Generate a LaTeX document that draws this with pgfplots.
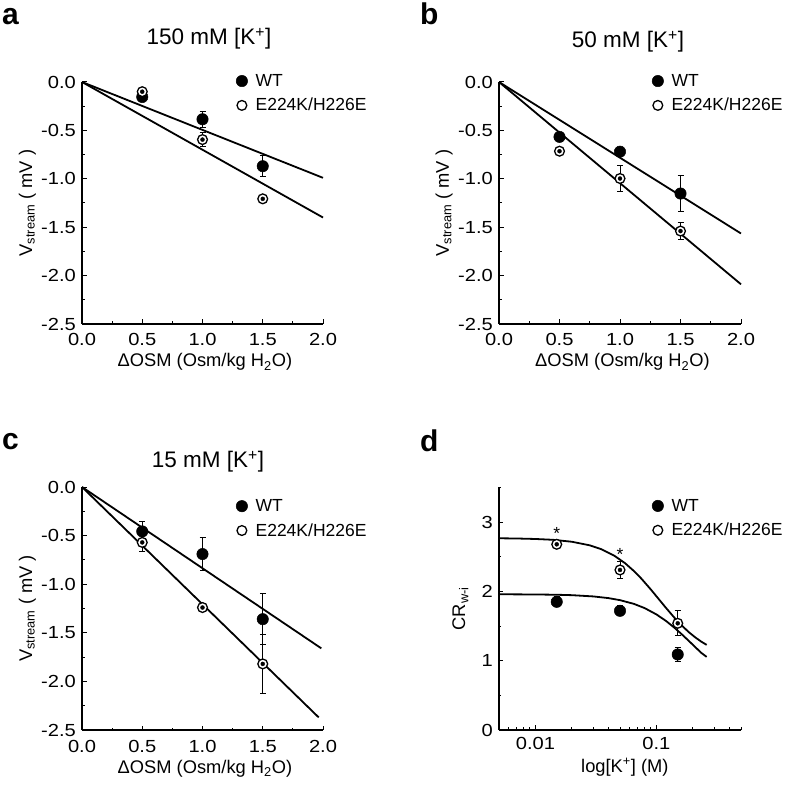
\documentclass[border=0pt]{standalone}
\usepackage{pgfplots}
\pgfplotsset{compat=1.18}
\usepackage{fontspec}
\setmainfont{Liberation Sans}
\newfontfamily\myTickFam[FakeStretch=1.15]{Liberation Sans}
\newcommand{\myTickFont}{\myTickFam\fontsize{17.5bp}{20bp}\selectfont}
\newcommand{\myLabFont}{\fontsize{18.3bp}{21bp}\selectfont}
\newcommand{\myLegFont}{\fontsize{17.5bp}{20bp}\selectfont}
\newcommand{\myTitleFont}{\fontsize{22.5bp}{25bp}\selectfont}
\newcommand{\myLetterFont}{\fontsize{30bp}{32bp}\selectfont\bfseries}

\pgfplotsset{
 panel/.style={
  scale only axis, clip=false,
  axis x line*=bottom, axis y line*=left,
  axis line style={line width=1.2bp,-},
  tick align=inside,
  major tick length=4.5bp, minor tick length=2.5bp,
  every tick/.style={line width=1bp, black},
  tick label style={font=\myTickFont},
  xticklabel style={anchor=base, yshift=-22bp},
  yticklabel style={inner sep=0pt, xshift=-6bp},
  legend style={draw=none, fill=none, font=\myLegFont, legend cell align=left, anchor=north west,
     row sep=6.5bp, column sep=6bp, inner sep=0pt, nodes={inner sep=2bp}},
 },
 osm/.style={
  xmin=0, xmax=2, ymin=-2.5, ymax=0,
  xtick={0,0.5,1,1.5,2}, xticklabels={0.0,0.5,1.0,1.5,2.0},
  ytick={-2.5,-2,-1.5,-1,-0.5,0}, yticklabels={-2.5,-2.0,-1.5,-1.0,-0.5,0.0},
  minor tick num=1,
  xlabel={ΔOSM (Osm/kg H\textsubscript{2}O)},
  ylabel={V\textsubscript{stream} ( mV )},
  xlabel style={at={(axis description cs:0.51,0)}, anchor=base, yshift=-43bp, font=\myLabFont},
  ylabel style={at={(axis description cs:-0.207,0.5)}, anchor=base, font=\myLabFont},
 },
 wt/.style={black, only marks, mark=*, mark size=5.7bp, mark options={fill=black, line width=0.5bp},
  legend image code/.code={\draw[mark repeat=2,mark phase=2,##1] plot coordinates {(0bp,0bp)(6bp,0bp)(12bp,0bp)};},
  error bars/y dir=both, error bars/y explicit,
  error bars/error bar style={line width=1bp, black},
  error bars/error mark options={rotate=90, line width=1bp, mark size=3bp, black}},
 mu/.style={black, only marks, mark=*, mark size=4.9bp, mark options={fill=white, draw=black, line width=1.3bp},
  legend image code/.code={\draw[mark repeat=2,mark phase=2,##1] plot coordinates {(0bp,0bp)(6bp,0bp)(12bp,0bp)};}},
 eb/.style={black, forget plot, only marks, mark=none,
  error bars/y dir=both, error bars/y explicit,
  error bars/error bar style={line width=1bp, black},
  error bars/error mark options={rotate=90, line width=1bp, mark size=3bp, black}},
 fit/.style={black, line width=1.8bp, mark=none, forget plot},
}

\begin{document}
\begin{tikzpicture}
\path[use as bounding box] (0bp,0bp) rectangle (787bp,785bp);

% ---------- panel a ----------
\begin{axis}[panel, osm, at={(82bp,461bp)}, anchor=south west, width=241bp, height=242bp,
  legend style={at={(0.639,1.041)}}]
\addplot[fit] coordinates {(0,0) (2,-0.99)};
\addplot[fit] coordinates {(0,0) (2,-1.40)};
\addplot[wt] coordinates {(0.5,-0.155) +- (0,0.05) (1,-0.385) +- (0,0.08) (1.5,-0.87) +- (0,0.11)};
\addlegendentry{WT}
\addplot[mu] coordinates {(0.5,-0.10) (1,-0.595) (1.5,-1.207)};
\addlegendentry{E224K/H226E}
\addplot[eb] coordinates {(0.5,-0.10) +- (0,0.03) (1,-0.595) +- (0,0.07) (1.5,-1.207) +- (0,0.03)};
\end{axis}

% ---------- panel b ----------
\begin{axis}[panel, osm, at={(499bp,461bp)}, anchor=south west, width=242bp, height=242bp,
  legend style={at={(0.632,1.041)}}]
\addplot[fit] coordinates {(0,0) (2,-1.565)};
\addplot[fit] coordinates {(0,0) (2,-2.09)};
\addplot[wt] coordinates {(0.5,-0.567) +- (0,0.05) (1,-0.72) +- (0,0.03) (1.5,-1.152) +- (0,0.19)};
\addlegendentry{WT}
\addplot[mu] coordinates {(0.5,-0.715) (1,-0.997) (1.5,-1.54)};
\addlegendentry{E224K/H226E}
\addplot[eb] coordinates {(0.5,-0.715) +- (0,0.03) (1,-0.997) +- (0,0.13) (1.5,-1.54) +- (0,0.09)};
\end{axis}

% ---------- panel c ----------
\begin{axis}[panel, osm, at={(82bp,55bp)}, anchor=south west, width=241bp, height=243bp,
  legend style={at={(0.639,0.958)}}]
\addplot[fit] coordinates {(0,0) (1.986,-1.66)};
\addplot[fit] coordinates {(0,0) (1.964,-2.37)};
\addplot[wt] coordinates {(0.5,-0.457) +- (0,0.10) (1,-0.69) +- (0,0.17) (1.5,-1.36) +- (0,0.26)};
\addlegendentry{WT}
\addplot[mu] coordinates {(0.5,-0.57) (1,-1.24) (1.5,-1.82)};
\addlegendentry{E224K/H226E}
\addplot[eb] coordinates {(0.5,-0.57) +- (0,0.09) (1,-1.24) +- (0,0.04) (1.5,-1.82) +- (0,0.30)};
\end{axis}

% ---------- panel d ----------
\begin{axis}[panel, at={(499bp,55bp)}, anchor=south west, width=242bp, height=242.5bp,
  xmode=log, xmin=0.005, xmax=0.5, ymin=0, ymax=3.5,
  xtick={0.01,0.1}, xticklabels={0.01,0.1},
  xticklabel style={yshift=3bp},
  minor xtick={0.005,0.006,0.007,0.008,0.009,0.02,0.03,0.04,0.05,0.06,0.07,0.08,0.09,0.2,0.3,0.4,0.5},
  ytick={0,1,2,3}, yticklabels={0,1,2,3}, minor ytick={0.5,1.5,2.5,3.5},
  xlabel={log[K\textsuperscript{+}] (M)},
  ylabel={CR\textsubscript{w-i}},
  xlabel style={at={(axis description cs:0.52,0)}, anchor=base, yshift=-42bp, font=\myLabFont},
  ylabel style={at={(axis description cs:-0.14,0.5)}, anchor=base, font=\myLabFont},
  legend style={at={(0.632,0.961)}}]
\addplot[fit] coordinates {
 (0.005,2.767) (0.007,2.764) (0.01,2.757) (0.014,2.745) (0.02,2.717) (0.028,2.666)
 (0.035,2.610) (0.045,2.514) (0.055,2.408) (0.065,2.296) (0.075,2.186) (0.09,2.027)
 (0.105,1.885) (0.12,1.762) (0.14,1.626) (0.16,1.517) (0.185,1.413) (0.21,1.335)
 (0.235,1.275) (0.26,1.229)};
\addplot[fit] coordinates {
 (0.005,1.959) (0.01,1.956) (0.015,1.952) (0.02,1.946) (0.03,1.928) (0.04,1.904)
 (0.05,1.874) (0.065,1.821) (0.08,1.759) (0.1,1.668) (0.12,1.574) (0.14,1.480)
 (0.16,1.390) (0.185,1.287) (0.21,1.194) (0.235,1.113) (0.26,1.055)};
\addplot[wt] coordinates {(0.015,1.85) +- (0,0.07) (0.05,1.72) +- (0,0.07) (0.15,1.09) +- (0,0.10)};
\addlegendentry{WT}
\addplot[mu] coordinates {(0.015,2.68) (0.05,2.31) (0.15,1.54)};
\addlegendentry{E224K/H226E}
\addplot[eb] coordinates {(0.015,2.68) +- (0,0.05) (0.05,2.31) +- (0,0.12) (0.15,1.54) +- (0,0.18)};
\node[font=\myLegFont] at (axis cs:0.015,2.84) {*};
\node[font=\myLegFont] at (axis cs:0.05,2.53) {*};
\end{axis}

% ---------- titles and panel letters ----------
\node[font=\myTitleFont, anchor=base] at (209bp,740bp) {150 mM [K\textsuperscript{+}]};
\node[font=\myTitleFont, anchor=base] at (628bp,737bp) {50 mM [K\textsuperscript{+}]};
\node[font=\myTitleFont, anchor=base] at (208bp,317bp) {15 mM [K\textsuperscript{+}]};
\node[font=\myLetterFont, anchor=base west, inner sep=0pt] at (2bp,760bp) {a};
\node[font=\myLetterFont, anchor=base west, inner sep=0pt] at (420bp,760bp) {b};
\node[font=\myLetterFont, anchor=base west, inner sep=0pt] at (2bp,335bp) {c};
\node[font=\myLetterFont, anchor=base west, inner sep=0pt] at (420bp,333bp) {d};
\end{tikzpicture}
\end{document}
